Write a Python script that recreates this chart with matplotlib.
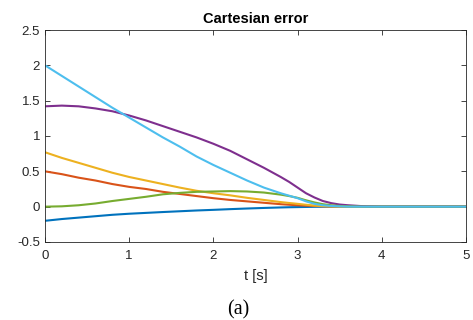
import numpy as np
import matplotlib
matplotlib.use("Agg")
import matplotlib.pyplot as plt

# -------------------------------------------------------
# Data (error components vs time)
# -------------------------------------------------------
t = [0.0, 0.2, 0.4, 0.6, 0.8, 1.0, 1.2, 1.4, 1.6, 1.8, 2.0,
     2.2, 2.4, 2.6, 2.8, 2.9, 3.0, 3.1, 3.2, 3.3, 3.4, 3.5, 3.6, 3.8, 4.0, 5.0]

e1 = [-0.20, -0.175, -0.155, -0.135, -0.115, -0.10, -0.088, -0.076, -0.065, -0.054, -0.045,
      -0.035, -0.026, -0.018, -0.011, -0.008, -0.006, -0.004, -0.002, -0.001, 0.0, 0.0, 0.0, 0.0, 0.0, 0.0]
e2 = [0.50, 0.46, 0.41, 0.37, 0.32, 0.28, 0.25, 0.21, 0.18, 0.15, 0.12,
      0.095, 0.075, 0.055, 0.035, 0.027, 0.02, 0.014, 0.01, 0.006, 0.003, 0.001, 0.0, 0.0, 0.0, 0.0]
e3 = [0.77, 0.69, 0.62, 0.55, 0.48, 0.42, 0.37, 0.32, 0.27, 0.225, 0.19,
      0.16, 0.125, 0.095, 0.065, 0.052, 0.04, 0.027, 0.015, 0.008, 0.004, 0.001, 0.0, 0.0, 0.0, 0.0]
e4 = [1.42, 1.43, 1.42, 1.39, 1.35, 1.29, 1.22, 1.14, 1.06, 0.98, 0.89,
      0.79, 0.67, 0.55, 0.42, 0.35, 0.27, 0.19, 0.13, 0.08, 0.05, 0.03, 0.02, 0.005, 0.0, 0.0]
e5 = [0.0, 0.005, 0.02, 0.045, 0.08, 0.11, 0.14, 0.175, 0.195, 0.21, 0.215,
      0.22, 0.215, 0.20, 0.17, 0.15, 0.125, 0.09, 0.06, 0.035, 0.02, 0.01, 0.005, 0.0, 0.0, 0.0]
e6 = [2.00, 1.85, 1.70, 1.55, 1.40, 1.26, 1.12, 0.98, 0.85, 0.71, 0.59,
      0.48, 0.37, 0.27, 0.19, 0.155, 0.12, 0.075, 0.04, 0.02, 0.01, 0.004, 0.0, 0.0, 0.0, 0.0]

series = [e1, e2, e3, e4, e5, e6]
colors = ['#0072BD', '#D95319', '#EDB120', '#7E2F8E', '#77AC30', '#4DBEEE']

xticks = [0, 1, 2, 3, 4, 5]
yticks = [-0.5, 0, 0.5, 1, 1.5, 2, 2.5]
ytick_labels = ['-0.5', '0', '0.5', '1', '1.5', '2', '2.5']

axcol = '#262626'
plt.rcParams['font.family'] = ['Liberation Sans', 'DejaVu Sans']

fig = plt.figure(figsize=(4.73, 3.2), dpi=100)
ax = fig.add_axes([45/473, 78/320, 421/473, 212/320])

for y, c in zip(series, colors):
    ax.plot(t, y, color=c, linewidth=1.5, solid_capstyle='butt')

ax.set_xlim(0, 5)
ax.set_ylim(-0.5, 2.5)
ax.set_xticks(xticks)
ax.set_yticks(yticks)
ax.set_yticklabels(ytick_labels)
ax.tick_params(direction='in', length=3.5, width=0.6, colors=axcol,
               labelsize=9.5, top=True, right=True)
ax.tick_params(axis='x', pad=6)
ax.tick_params(axis='y', pad=3.5)
for s in ax.spines.values():
    s.set_color(axcol)
    s.set_linewidth(0.6)

ax.set_title('Cartesian error', fontsize=10.5, fontweight='bold', color='black', pad=5)
ax.set_xlabel('t [s]', fontsize=10.5, color=axcol, labelpad=5)

fig.text(238/473, 1 - 310/320, '(a)', family=['Liberation Serif', 'DejaVu Serif'],
         fontsize=14.5, ha='center', va='center')

fig.savefig('out.png', dpi=100)
